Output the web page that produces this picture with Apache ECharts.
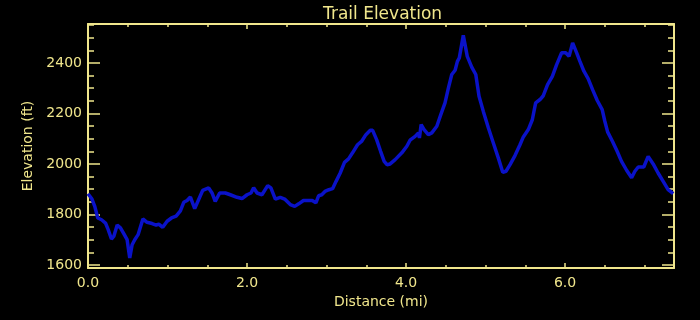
<!DOCTYPE html>
<html>
<head>
    <meta charset="utf-8">
    <title>Trail Elevation</title>
    <script src="https://cdn.jsdelivr.net/npm/echarts@6/dist/echarts.min.js"></script>
    <style>
        html, body { margin: 0; padding: 0; background: #000; }
        #main { width: 700px; height: 320px; }
    </style>
</head>
<body>
    <div id="main"></div>
    <script>
    // distance along trail (mi)
    var distance = [
        0, 0.05, 0.085, 0.123, 0.17, 0.22, 0.254, 0.295, 0.324, 0.367,
        0.408, 0.45, 0.492, 0.525, 0.555, 0.588, 0.63, 0.69, 0.743, 0.806,
        0.857, 0.89, 0.94, 0.995, 1.05, 1.108, 1.162, 1.204, 1.246, 1.288,
        1.342, 1.392, 1.442, 1.518, 1.56, 1.6, 1.656, 1.727, 1.79, 1.874,
        1.937, 2.0, 2.05, 2.083, 2.126, 2.188, 2.26, 2.3, 2.356, 2.418,
        2.473, 2.544, 2.6, 2.65, 2.71, 2.774, 2.82, 2.866, 2.9, 2.94,
        2.98, 3.03, 3.076, 3.12, 3.172, 3.226, 3.277, 3.327, 3.39, 3.44,
        3.495, 3.55, 3.58, 3.63, 3.68, 3.725, 3.76, 3.8, 3.863, 3.947,
        4.01, 4.05, 4.114, 4.156, 4.168, 4.19, 4.227, 4.28, 4.324, 4.387,
        4.437, 4.49, 4.533, 4.575, 4.617, 4.646, 4.67, 4.72, 4.77, 4.826,
        4.877, 4.918, 4.972, 5.035, 5.098, 5.16, 5.216, 5.257, 5.308, 5.37,
        5.433, 5.475, 5.538, 5.588, 5.63, 5.685, 5.726, 5.78, 5.84, 5.894,
        5.957, 6.008, 6.05, 6.095, 6.146, 6.187, 6.237, 6.29, 6.346, 6.405,
        6.467, 6.5, 6.535, 6.597, 6.655, 6.71, 6.774, 6.837, 6.878, 6.92,
        6.99, 7.045, 7.108, 7.17, 7.234, 7.296, 7.36
    ];
    // elevation (ft)
    var elevation = [
        1882, 1861, 1832, 1786, 1779, 1766, 1740, 1703, 1713, 1758,
        1747, 1724, 1700, 1628, 1680, 1700, 1720, 1782, 1769, 1764,
        1758, 1762, 1749, 1773, 1786, 1793, 1814, 1848, 1855, 1869,
        1823, 1859, 1895, 1905, 1885, 1852, 1885, 1885, 1878, 1868,
        1863, 1878, 1885, 1906, 1885, 1878, 1914, 1905, 1861, 1868,
        1861, 1839, 1832, 1842, 1855, 1855, 1855, 1846, 1874, 1878,
        1891, 1898, 1902, 1931, 1964, 2006, 2020, 2044, 2076, 2089,
        2116, 2133, 2133, 2096, 2050, 2010, 1997, 2000, 2017, 2044,
        2070, 2094, 2109, 2123, 2103, 2156, 2136, 2116, 2123, 2149,
        2195, 2242, 2301, 2354, 2371, 2406, 2420, 2509, 2426, 2383,
        2354, 2268, 2208, 2143, 2083, 2024, 1967, 1971, 1997, 2033,
        2076, 2107, 2136, 2175, 2242, 2255, 2270, 2314, 2347, 2393,
        2440, 2440, 2426, 2479, 2440, 2406, 2367, 2338, 2294, 2251,
        2215, 2169, 2127, 2089, 2050, 2010, 1975, 1945, 1971, 1988,
        1988, 2030, 2000, 1964, 1931, 1898, 1882
    ];

    var xMajor = [0, 2, 4, 6];
    var xMinor = [0.5, 1, 1.5, 2.5, 3, 3.5, 4.5, 5, 5.5, 6.5, 7];
    var yMajor = [1600, 1800, 2000, 2200, 2400];
    var yMinor = [1650, 1700, 1750, 1850, 1900, 1950, 2050, 2100, 2150, 2250, 2300, 2350, 2450, 2500, 2550];

    var fg = '#f0e68c';
    var font = 'DejaVu Sans';
    var xMin = 0, xMax = 7.37;
    var yMin = 1588, yMax = 2554;

    function xAxis(pos, values, len, main, name) {
        return {
            type: 'value', position: pos, min: xMin, max: xMax, offset: 0,
            name: name || '', nameLocation: 'middle', nameGap: 27,
            nameTextStyle: { color: fg, fontFamily: font, fontSize: 14 },
            axisLine: { show: main, onZero: false, lineStyle: { color: fg, width: 2 } },
            splitLine: { show: false },
            axisTick: { show: true, inside: true, length: len, customValues: values, lineStyle: { color: fg, width: 1.5 } },
            axisLabel: (main && pos === 'bottom') ? {
                show: true, customValues: values, color: fg, fontFamily: font, fontSize: 14, margin: 8,
                formatter: function (v) { return v.toFixed(1); }
            } : { show: false }
        };
    }
    function yAxis(pos, values, len, main, name) {
        return {
            type: 'value', position: pos, min: yMin, max: yMax, offset: 0,
            name: name || '', nameLocation: 'middle', nameGap: 50, nameRotate: 90,
            nameTextStyle: { color: fg, fontFamily: font, fontSize: 14 },
            axisLine: { show: main, onZero: false, lineStyle: { color: fg, width: 2 } },
            splitLine: { show: false },
            axisTick: { show: true, inside: true, length: len, customValues: values, lineStyle: { color: fg, width: 1.5 } },
            axisLabel: (main && pos === 'left') ? {
                show: true, customValues: values, color: fg, fontFamily: font, fontSize: 14, margin: 6,
                formatter: function (v) { return String(v); }
            } : { show: false }
        };
    }

    var points = [];
    for (var i = 0; i < distance.length; i++) {
        points.push([distance[i], elevation[i]]);
    }

    var myChart = echarts.init(document.getElementById('main'));
    var option = {
        backgroundColor: '#000',
        animation: false,
        title: {
            text: 'Trail Elevation', left: 318, top: 1,
            textStyle: { color: fg, fontFamily: font, fontSize: 17, fontWeight: 'normal' }
        },
        grid: { left: 88, right: 26, top: 24, bottom: 52 },
        xAxis: [
            xAxis('bottom', xMajor, 5, true, 'Distance (mi)'),
            xAxis('bottom', xMinor, 3, false),
            xAxis('top', xMajor, 5, true),
            xAxis('top', xMinor, 3, false)
        ],
        yAxis: [
            yAxis('left', yMajor, 12, true, 'Elevation (ft)'),
            yAxis('left', yMinor, 6, false),
            yAxis('right', yMajor, 12, true),
            yAxis('right', yMinor, 6, false)
        ],
        series: [{
            type: 'line',
            xAxisIndex: 0,
            yAxisIndex: 0,
            data: points,
            showSymbol: false,
            lineStyle: { color: '#0a12c8', width: 3.5 }
        }]
    };
    myChart.setOption(option);
    </script>
</body>
</html>
